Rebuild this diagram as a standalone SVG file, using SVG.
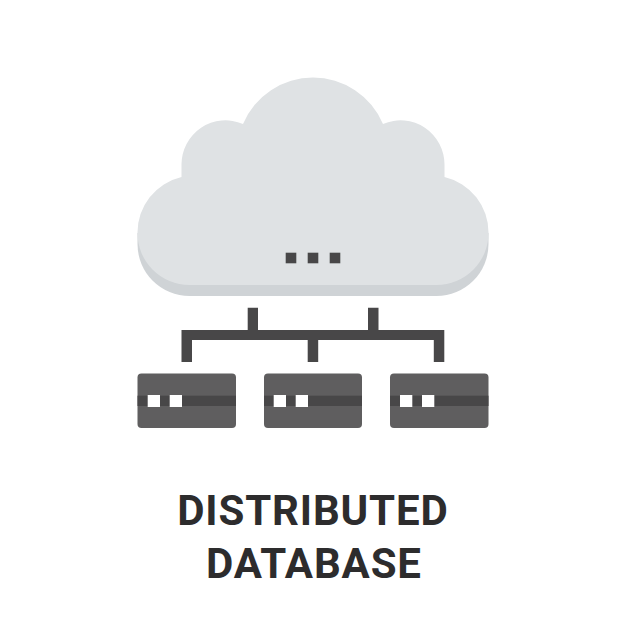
<svg xmlns="http://www.w3.org/2000/svg" width="626" height="626" viewBox="0 0 626 626">
<style>
.dark{fill:#484748}
.card{fill:#5f5e5f}
.white{fill:#fff}
.label{font-family:Roboto,"Liberation Sans",sans-serif;font-weight:700;font-size:42px;letter-spacing:.85px;fill:#2d2c2d;text-anchor:middle}
</style>
<rect width="626" height="626" fill="#fff"/>
<g id="cloud">
<path fill="#cfd3d6" d="M137.500 233V244A52 52 0 0 0 189.500 296H436.500A52 52 0 0 0 488.500 244V233Z"/>
<path fill="#dfe2e4" d="M137.500 233A57 57 0 0 1 181.500 177V165A44 44 0 0 1 243 124A76 76 0 0 1 383 124A44 44 0 0 1 444.500 165V177A57 57 0 0 1 488.500 233A52 52 0 0 1 436.500 285H189.500A52 52 0 0 1 137.500 233Z"/>
<rect class="dark" x="285.700" y="252.700" width="10.600" height="10.600"/>
<rect class="dark" x="307.700" y="252.700" width="10.600" height="10.600"/>
<rect class="dark" x="329.700" y="252.700" width="10.600" height="10.600"/>
</g>
<g id="connectors">
<path class="dark" d="M247.700 307.700H258V330H368V307.700H378.500V330H444.300V362H433.800V340H318.200V362H307.700V340H192V362H181.500V330H247.700Z"/>
</g>
<g id="server-1">
<rect class="card" x="137.500" y="373.500" width="98.500" height="54.500" rx="4"/>
<rect class="dark" x="137.500" y="395.700" width="98.500" height="10.300"/>
<rect class="white" x="147.700" y="395" width="12.300" height="12"/>
<rect class="white" x="169.700" y="395" width="12.300" height="12"/>
</g>
<g id="server-2">
<rect class="card" x="264" y="373.500" width="98" height="54.500" rx="4"/>
<rect class="dark" x="264" y="395.700" width="98" height="10.300"/>
<rect class="white" x="273.700" y="395" width="12.300" height="12"/>
<rect class="white" x="295.700" y="395" width="12.300" height="12"/>
</g>
<g id="server-3">
<rect class="card" x="390" y="373.500" width="98.500" height="54.500" rx="4"/>
<rect class="dark" x="390" y="395.700" width="98.500" height="10.300"/>
<rect class="white" x="400" y="395" width="12.300" height="12"/>
<rect class="white" x="422" y="395" width="12.300" height="12"/>
</g>
<text class="label" x="312.900" y="525">DISTRIBUTED</text>
<text class="label" x="313.900" y="578">DATABASE</text>
</svg>
